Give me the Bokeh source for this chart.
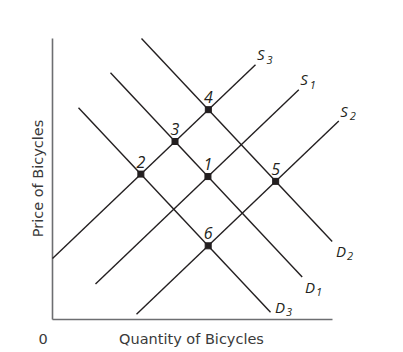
import numpy as np
from bokeh.plotting import figure
from bokeh.models import Range1d
from bokeh.core.properties import value
from bokeh.embed import file_html
from bokeh.resources import INLINE

# ---------------- data (conceptual diagram, units ~ screen px) ----------------
supply_names = ["S", "S", "S"]
supply_subs = ["3", "1", "2"]
supply_intercepts = [61.0, -5.5, -75.0]
supply_slope = 0.955
supply_q_start = [0.0, 43.0, 84.0]
supply_q_end = [203.0, 246.3, 286.3]

demand_names = ["D", "D", "D"]
demand_subs = ["2", "1", "3"]
demand_intercepts = [375.8, 308.5, 239.5]
demand_slope = -1.065
demand_q_start = [89.0, 58.0, 26.0]
demand_q_end = [279.7, 249.7, 218.0]

# equilibrium points: label, index of supply curve, index of demand curve
point_labels = ["1", "2", "3", "4", "5", "6"]
point_supply_idx = [1, 0, 0, 0, 2, 2]
point_demand_idx = [1, 2, 1, 0, 0, 2]

axis_q_max = 280.0
axis_p_max = 281.0
x_title = "Quantity of Bicycles"
y_title = "Price of Bicycles"
origin_label = "0"

# ---------------- layout / style ----------------
FONT = "Open Sans"
TFONT = "DejaVu Sans"
INK = "#231f20"
TXT = "#3a3a3a"
AXIS_C = "#6d6e71"

p = figure(width=403, height=352, output_backend="svg", toolbar_location=None,
           x_range=Range1d(-52, 351), y_range=Range1d(-33, 319),
           min_border=0, min_border_left=0, min_border_right=0,
           min_border_top=0, min_border_bottom=0)
p.axis.visible = False
p.grid.visible = False
p.outline_line_color = None
p.background_fill_color = "white"
p.border_fill_color = "white"

# axes
p.segment(x0=[0, 0], y0=[0, 0], x1=[0, axis_q_max], y1=[axis_p_max, 0],
          line_color=AXIS_C, line_width=1.6)

# curves
def seg(intercepts, slope, qs, qe):
    qs = np.array(qs); qe = np.array(qe); a = np.array(intercepts)
    return qs, a + slope * qs, qe, a + slope * qe

sx0, sy0, sx1, sy1 = seg(supply_intercepts, supply_slope, supply_q_start, supply_q_end)
dx0, dy0, dx1, dy1 = seg(demand_intercepts, demand_slope, demand_q_start, demand_q_end)
p.segment(x0=np.r_[sx0, dx0], y0=np.r_[sy0, dy0], x1=np.r_[sx1, dx1], y1=np.r_[sy1, dy1],
          line_color=INK, line_width=1.4)

# equilibrium points
a_s = np.array(supply_intercepts)[point_supply_idx]
a_d = np.array(demand_intercepts)[point_demand_idx]
pq = (a_d - a_s) / (supply_slope - demand_slope)
pp = a_s + supply_slope * pq
p.scatter(pq, pp, marker="square", size=6, fill_color=INK, line_color=INK)
p.text(x=pq, y=pp + 12.5, text=point_labels, text_align="center", text_baseline="alphabetic",
       text_font=value(FONT), text_font_style="italic", text_font_size="16px", text_color=INK)

# curve labels (main letter + subscript)
s_lab_x = sx1 + 1.5
s_lab_y = sy1 + 10.5
p.text(x=s_lab_x, y=s_lab_y, text=supply_names, text_align="left", text_baseline="alphabetic",
       text_font=value(FONT), text_font_style="italic", text_font_size="15px", text_color=INK)
p.text(x=s_lab_x + 9.5, y=s_lab_y - 5.5, text=supply_subs, text_align="left", text_baseline="alphabetic",
       text_font=value(FONT), text_font_style="italic", text_font_size="11px", text_color=INK)

d_off_x = np.array([3.8, 2.8, 4.5])
d_off_y = np.array([-9.7, -9.7, 5.4])
d_lab_x = dx1 + d_off_x
d_lab_y = dy1 + d_off_y
p.text(x=d_lab_x, y=d_lab_y, text=demand_names, text_align="left", text_baseline="alphabetic",
       text_font=value(FONT), text_font_style="italic", text_font_size="15px", text_color=INK)
p.text(x=d_lab_x + 11.0, y=d_lab_y - 5.0, text=demand_subs, text_align="left", text_baseline="alphabetic",
       text_font=value(FONT), text_font_style="italic", text_font_size="11px", text_color=INK)

# axis titles
p.text(x=[axis_q_max / 2 - 1], y=[-19.5], text=[x_title], text_align="center", text_baseline="alphabetic",
       text_font=value(TFONT), text_font_size="14.5px", text_color=TXT)
p.text(x=[-15], y=[axis_p_max / 2 + 0.5], text=[y_title], angle=np.pi / 2, text_align="center",
       text_baseline="alphabetic", text_font=value(TFONT), text_font_size="14.5px", text_color=TXT)
p.text(x=[-9.3], y=[-19.5], text=[origin_label], text_align="center", text_baseline="alphabetic",
       text_font=value(TFONT), text_font_size="14.5px", text_color=TXT)

open("out.html", "w").write(file_html(p, INLINE))
